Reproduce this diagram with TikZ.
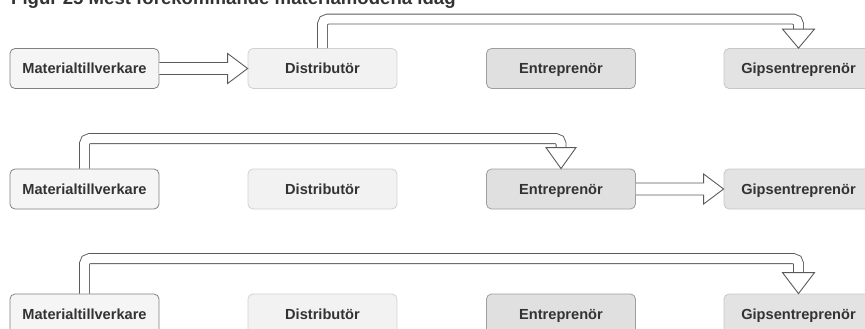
\documentclass[tikz,border=0pt]{standalone}
\usepackage{fontspec}
\setmainfont{Liberation Sans}
\usetikzlibrary{calc}
\definecolor{txt}{HTML}{333333}
\definecolor{arr}{HTML}{5A5A5A}
\tikzset{
  box/.style={draw, rectangle, rounded corners=5pt, minimum width=149pt, minimum height=40pt,
    line width=0.8pt, text=txt, font=\bfseries\fontsize{14.6}{16}\selectfont, inner sep=0pt,
    text height=10.5pt, text depth=0pt},
  boxM/.style={box, draw=black!50, fill=black!4},
  boxD/.style={box, draw=black!18, fill=black!5},
  boxE/.style={box, draw=black!38, fill=black!12},
  boxG/.style={box, draw=black!22, fill=black!11},
  shaft/.style={draw=arr, line width=0.9pt, double=white, double distance=9pt, rounded corners=5pt},
  head/.style={draw=arr, line width=0.9pt, fill=white, line join=miter},
}
\begin{document}
\begin{tikzpicture}[x=1pt, y=-1pt]
\useasboundingbox (0,0) rectangle (865,329);
\node[anchor=base west, font=\bfseries\fontsize{18.6}{20}\selectfont, text=txt, inner sep=0pt] (title) at (11,4.5) {Figur 25 Mest förekommande materialflödena idag};
% row 1
\node[boxM] (m1) at (84.5,68.5) {Materialtillverkare};
\node[boxD] (d1) at (322.5,68.5) {Distributör};
\node[boxE] (e1) at (561,68.5) {Entreprenör};
\node[boxG] (g1) at (798.5,68.5) {Gipsentreprenör};
% row 2
\node[boxM] (m2) at (84.5,189) {Materialtillverkare};
\node[boxD] (d2) at (322.5,189) {Distributör};
\node[boxE] (e2) at (561,189) {Entreprenör};
\node[boxG] (g2) at (798.5,189) {Gipsentreprenör};
% row 3
\node[boxM] (m3) at (84.5,314) {Materialtillverkare};
\node[boxD] (d3) at (322.5,314) {Distributör};
\node[boxE] (e3) at (561,314) {Entreprenör};
\node[boxG] (g3) at (798.5,314) {Gipsentreprenör};
% row 1 arrows
\draw[head] ($(m1.east)+(0,-6)$) -- ($(d1.west)+(-20,-6)$) -- ($(d1.west)+(-20,-15)$) -- (d1.west)
  -- ($(d1.west)+(-20,15)$) -- ($(d1.west)+(-20,6)$) -- ($(m1.east)+(0,6)$);
\draw[shaft] (d1.north) -- ++(0,-29) -| ($(g1.north)+(0,-19)$);
\draw[head] ($(g1.north)+(-16,-19)$) -- ($(g1.north)+(16,-19)$) -- (g1.north) -- cycle;
% row 2 arrows
\draw[shaft] (m2.north) -- ++(0,-30) -| ($(e2.north)+(0,-21)$);
\draw[head] ($(e2.north)+(-15,-21)$) -- ($(e2.north)+(15,-21)$) -- (e2.north) -- cycle;
\draw[head] ($(e2.east)+(0,-6)$) -- ($(g2.west)+(-20,-6)$) -- ($(g2.west)+(-20,-15)$) -- (g2.west)
  -- ($(g2.west)+(-20,15)$) -- ($(g2.west)+(-20,6)$) -- ($(e2.east)+(0,6)$);
% row 3 arrows
\draw[shaft] (m3.north) -- ++(0,-35) -| ($(g3.north)+(0,-21)$);
\draw[head] ($(g3.north)+(-16,-21)$) -- ($(g3.north)+(16,-21)$) -- (g3.north) -- cycle;
\end{tikzpicture}
\end{document}
